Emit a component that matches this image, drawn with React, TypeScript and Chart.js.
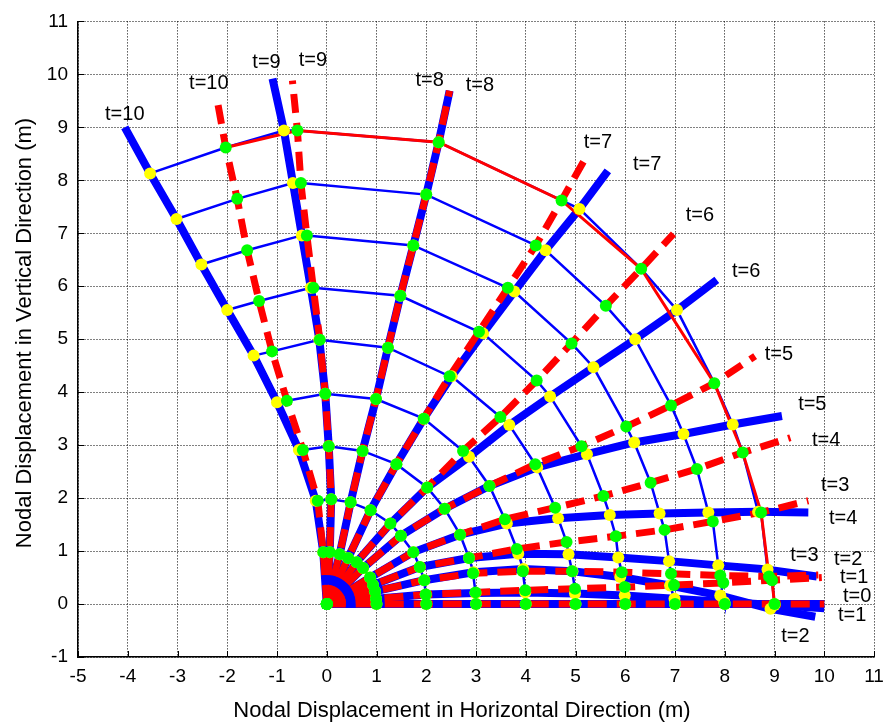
import React, { useEffect, useRef } from 'react';
import { Chart, registerables } from 'chart.js';
Chart.register(...registerables);

// time steps of the rotating rod
const timeSteps = [0, 1, 2, 3, 4, 5, 6, 7, 8, 9, 10];

// Blue (solid) solution: nodes 0..9 then rod end, one row per time step
const blueX = [
  [0, 1, 2, 3, 4, 5, 6, 7, 8, 9, 10],
  [0, 0.99, 1.99, 2.99, 3.99, 4.99, 5.99, 6.99, 7.99, 9.0, 10.0],
  [0, 0.97, 1.96, 2.95, 3.95, 4.94, 5.9, 6.9, 7.91, 8.92, 9.82],
  [0, 0.93, 1.87, 2.86, 3.85, 4.86, 5.86, 6.88, 7.87, 8.86, 9.85],
  [0, 0.87, 1.74, 2.68, 3.62, 4.65, 5.69, 6.69, 7.67, 8.67, 9.68],
  [0, 0.73, 1.49, 2.37, 3.27, 4.23, 5.23, 6.18, 7.17, 8.16, 9.15],
  [0, 0.6, 1.28, 2.02, 2.86, 3.67, 4.49, 5.36, 6.2, 7.04, 7.84],
  [0, 0.43, 0.88, 1.4, 1.95, 2.51, 3.14, 3.77, 4.4, 5.08, 5.65],
  [0, 0.26, 0.48, 0.72, 0.99, 1.23, 1.48, 1.74, 2.0, 2.25, 2.47],
  [0, 0.06, 0.09, 0.04, -0.03, -0.15, -0.32, -0.5, -0.68, -0.86, -1.09],
  [0, -0.07, -0.22, -0.56, -1.0, -1.47, -2.0, -2.52, -3.02, -3.55, -4.06],
];
const blueY = [
  [0, 0, 0, 0, 0, 0, 0, 0, 0, 0, 0],
  [0, 0.1, 0.18, 0.21, 0.22, 0.2, 0.16, 0.1, 0.04, -0.02, -0.08],
  [0, 0.24, 0.45, 0.6, 0.66, 0.62, 0.51, 0.35, 0.16, -0.09, -0.24],
  [0, 0.36, 0.7, 0.87, 0.95, 0.94, 0.88, 0.81, 0.73, 0.65, 0.52],
  [0, 0.5, 0.98, 1.31, 1.52, 1.62, 1.68, 1.71, 1.73, 1.74, 1.73],
  [0, 0.68, 1.29, 1.8, 2.23, 2.58, 2.83, 3.05, 3.21, 3.39, 3.55],
  [0, 0.79, 1.52, 2.2, 2.78, 3.38, 3.92, 4.47, 5.0, 5.55, 6.12],
  [0, 0.87, 1.77, 2.64, 3.5, 4.3, 5.11, 5.9, 6.68, 7.46, 8.18],
  [0, 0.94, 1.92, 2.89, 3.87, 4.84, 5.82, 6.77, 7.73, 8.72, 9.69],
  [0, 0.98, 1.98, 2.98, 3.97, 4.99, 5.97, 6.96, 7.95, 8.94, 9.92],
  [0, 0.98, 1.95, 2.91, 3.81, 4.69, 5.55, 6.41, 7.27, 8.13, 9.0],
];

// Red (dashed) solution
const redX = [
  [0, 1, 2, 3, 4, 5, 6, 7, 8, 9, 10],
  [0, 0.99, 1.99, 2.99, 3.99, 4.99, 5.99, 6.98, 7.97, 8.95, 9.95],
  [0, 0.97, 1.96, 2.94, 3.94, 4.93, 5.93, 6.92, 7.91, 8.89, 9.88],
  [0, 0.93, 1.87, 2.86, 3.82, 4.82, 5.81, 6.79, 7.76, 8.73, 9.68],
  [0, 0.87, 1.74, 2.68, 3.58, 4.59, 5.56, 6.51, 7.44, 8.36, 9.32],
  [0, 0.73, 1.49, 2.37, 3.27, 4.19, 5.12, 6.02, 6.92, 7.79, 8.61],
  [0, 0.6, 1.28, 2.02, 2.74, 3.49, 4.22, 4.92, 5.61, 6.32, 6.97],
  [0, 0.43, 0.88, 1.4, 1.95, 2.47, 3.06, 3.64, 4.2, 4.72, 5.19],
  [0, 0.26, 0.48, 0.72, 0.99, 1.23, 1.48, 1.74, 2.0, 2.25, 2.47],
  [0, 0.06, 0.09, 0.04, -0.03, -0.14, -0.27, -0.4, -0.52, -0.59, -0.69],
  [0, -0.07, -0.18, -0.48, -0.8, -1.1, -1.36, -1.6, -1.8, -2.03, -2.21],
];
const redY = [
  [0, 0, 0, 0, 0, 0, 0, 0, 0, 0, 0],
  [0, 0.1, 0.18, 0.22, 0.26, 0.29, 0.32, 0.36, 0.4, 0.45, 0.5],
  [0, 0.24, 0.45, 0.58, 0.62, 0.62, 0.6, 0.57, 0.54, 0.52, 0.55],
  [0, 0.36, 0.7, 0.87, 1.04, 1.17, 1.28, 1.4, 1.56, 1.73, 1.95],
  [0, 0.5, 0.98, 1.31, 1.6, 1.82, 2.04, 2.29, 2.55, 2.86, 3.14],
  [0, 0.68, 1.29, 1.8, 2.23, 2.64, 2.98, 3.35, 3.75, 4.17, 4.68],
  [0, 0.79, 1.52, 2.2, 2.89, 3.53, 4.22, 4.92, 5.63, 6.33, 6.99],
  [0, 0.87, 1.77, 2.64, 3.5, 4.3, 5.14, 5.97, 6.77, 7.62, 8.4],
  [0, 0.94, 1.92, 2.89, 3.87, 4.84, 5.82, 6.77, 7.73, 8.72, 9.69],
  [0, 0.98, 1.98, 2.98, 3.97, 4.99, 5.97, 6.96, 7.95, 8.94, 9.88],
  [0, 0.98, 1.95, 2.91, 3.84, 4.77, 5.72, 6.68, 7.65, 8.62, 9.55],
];

// time labels
const labelText = [
  't=10', 't=10', 't=9', 't=9', 't=8', 't=8', 't=7', 't=7', 't=6', 't=6',
  't=5', 't=5', 't=4', 't=4', 't=3', 't=3', 't=2', 't=1', 't=0', 't=1', 't=2',
];
const labelX = [
  -4.06, -2.37, -1.21, -0.28, 2.07, 3.08, 5.45, 6.44, 7.5, 8.43,
  9.09, 9.76, 10.04, 10.38, 10.22, 9.6, 10.48, 10.6, 10.66, 10.56, 9.42,
];
const labelY = [
  9.25, 9.82, 10.22, 10.27, 9.88, 9.79, 8.72, 8.3, 7.34, 6.27,
  4.71, 3.77, 3.08, 1.61, 2.23, 0.91, 0.84, 0.5, 0.14, -0.21, -0.61,
];

const xTitle = 'Nodal Displacement in Horizontal Direction (m)';
const yTitle = 'Nodal Displacement in Vertical Direction (m)';
const xTicksMin = -5, xTicksMax = 11, yTicksMin = -1, yTicksMax = 11;
const FONT = "'Liberation Sans', Arial, Helvetica, sans-serif";

const pts = (xs: number[], ys: number[]) => xs.map((x, i) => ({ x, y: ys[i] }));

const overlay = {
  id: 'overlay',
  afterDraw(chart: any) {
    const { ctx, scales, chartArea } = chart;
    const xs = scales.x, ys = scales.y;
    ctx.save();
    // inward ticks
    ctx.strokeStyle = '#000';
    ctx.lineWidth = 1;
    ctx.beginPath();
    for (let v = xTicksMin; v <= xTicksMax; v++) {
      const px = Math.round(xs.getPixelForValue(v)) + 0.5;
      ctx.moveTo(px, chartArea.bottom);
      ctx.lineTo(px, chartArea.bottom - 6);
    }
    for (let v = yTicksMin; v <= yTicksMax; v++) {
      const py = Math.round(ys.getPixelForValue(v)) + 0.5;
      ctx.moveTo(chartArea.left, py);
      ctx.lineTo(chartArea.left + 6, py);
    }
    ctx.stroke();
    ctx.fillStyle = '#000';
    ctx.font = `20px ${FONT}`;
    ctx.textAlign = 'center';
    ctx.textBaseline = 'middle';
    labelText.forEach((t, i) => {
      ctx.fillText(t, xs.getPixelForValue(labelX[i]), ys.getPixelForValue(labelY[i]));
    });
    // axis titles
    ctx.font = `22px ${FONT}`;
    ctx.fillText(xTitle, 462, 711);
    ctx.translate(25, 333);
    ctx.rotate(-Math.PI / 2);
    ctx.fillText(yTitle, 0, 0);
    ctx.restore();
  },
};

export default function App() {
  const ref = useRef<HTMLCanvasElement>(null);
  useEffect(() => {
    const datasets: any[] = [];
    // thick blue rods
    timeSteps.forEach((t) => {
      datasets.push({
        data: pts(blueX[t], blueY[t]),
        showLine: true, borderColor: '#0000ff', borderWidth: 8,
        pointRadius: 0, order: 50, borderCapStyle: 'butt', borderJoinStyle: 'round',
      });
    });
    // dashed red rods
    timeSteps.forEach((t) => {
      datasets.push({
        data: pts(redX[t], redY[t]),
        showLine: true, borderColor: '#ff0000', borderWidth: 7, borderDash: [19, 10],
        pointRadius: 0, order: 40, borderCapStyle: 'butt', borderJoinStyle: 'round',
      });
    });
    // thin mesh lines through node k of every rod, ordered by angle
    for (let k = 1; k <= 9; k++) {
      const nodes: { x: number; y: number }[] = [];
      timeSteps.forEach((t) => {
        nodes.push({ x: blueX[t][k], y: blueY[t][k] });
        if (t > 0) nodes.push({ x: redX[t][k], y: redY[t][k] });
      });
      nodes.sort((a, b) => Math.atan2(b.y, b.x) - Math.atan2(a.y, a.x));
      datasets.push({
        data: nodes, showLine: true, borderColor: '#0000ff', borderWidth: 2.5,
        pointRadius: 0, order: 30,
      });
    }
    // thin red line through red rod node 9
    const tip = [...timeSteps].reverse().map((t) => ({ x: redX[t][9], y: redY[t][9] }));
    datasets.push({
      data: tip, showLine: true, borderColor: '#ff0000', borderWidth: 3,
      pointRadius: 0, order: 20,
    });
    // yellow nodes of blue rods
    const yellow: any[] = [];
    timeSteps.forEach((t) => { for (let k = 1; k <= 9; k++) yellow.push({ x: blueX[t][k], y: blueY[t][k] }); });
    datasets.push({
      data: yellow, showLine: false, pointRadius: 6, pointBackgroundColor: '#ffff00',
      pointBorderWidth: 0, order: 10,
    });
    // green nodes of red rods
    const green: any[] = [];
    timeSteps.forEach((t) => { for (let k = 0; k <= 9; k++) green.push({ x: redX[t][k], y: redY[t][k] }); });
    datasets.push({
      data: green, showLine: false, pointRadius: 6, pointBackgroundColor: '#00ff00',
      pointBorderWidth: 0, order: 0,
    });

    const chart = new Chart(ref.current!, {
      type: 'scatter',
      data: { datasets },
      options: {
        animation: false,
        responsive: false,
        events: [],
        layout: { padding: { left: 0, right: 20, top: 18, bottom: 0 } },
        plugins: { legend: { display: false }, tooltip: { enabled: false } },
        scales: {
          x: {
            type: 'linear', min: xTicksMin, max: xTicksMax,
            ticks: { stepSize: 1, color: '#000', font: { family: FONT, size: 19 }, padding: 8, maxRotation: 0 },
            grid: { color: '#000', lineWidth: 1, drawTicks: false },
            border: { display: true, color: '#000', width: 1.5, dash: [1, 2] },
            title: { display: false },
            afterFit: (s: any) => { s.height = 66; },
          },
          y: {
            type: 'linear', min: yTicksMin, max: yTicksMax,
            ticks: { stepSize: 1, color: '#000', font: { family: FONT, size: 19 }, padding: 10 },
            grid: { color: '#000', lineWidth: 1, drawTicks: false },
            border: { display: true, color: '#000', width: 1.5, dash: [1, 2] },
            title: { display: false },
            afterFit: (s: any) => { s.width = 78; },
          },
        },
      },
      plugins: [overlay],
    });
    return () => chart.destroy();
  }, []);
  return (
    <div style={{ position: 'fixed', left: 0, top: 0, width: 894, height: 723, background: '#fff' }}>
      <canvas ref={ref} width={894} height={723} style={{ display: 'block' }} />
    </div>
  );
}
